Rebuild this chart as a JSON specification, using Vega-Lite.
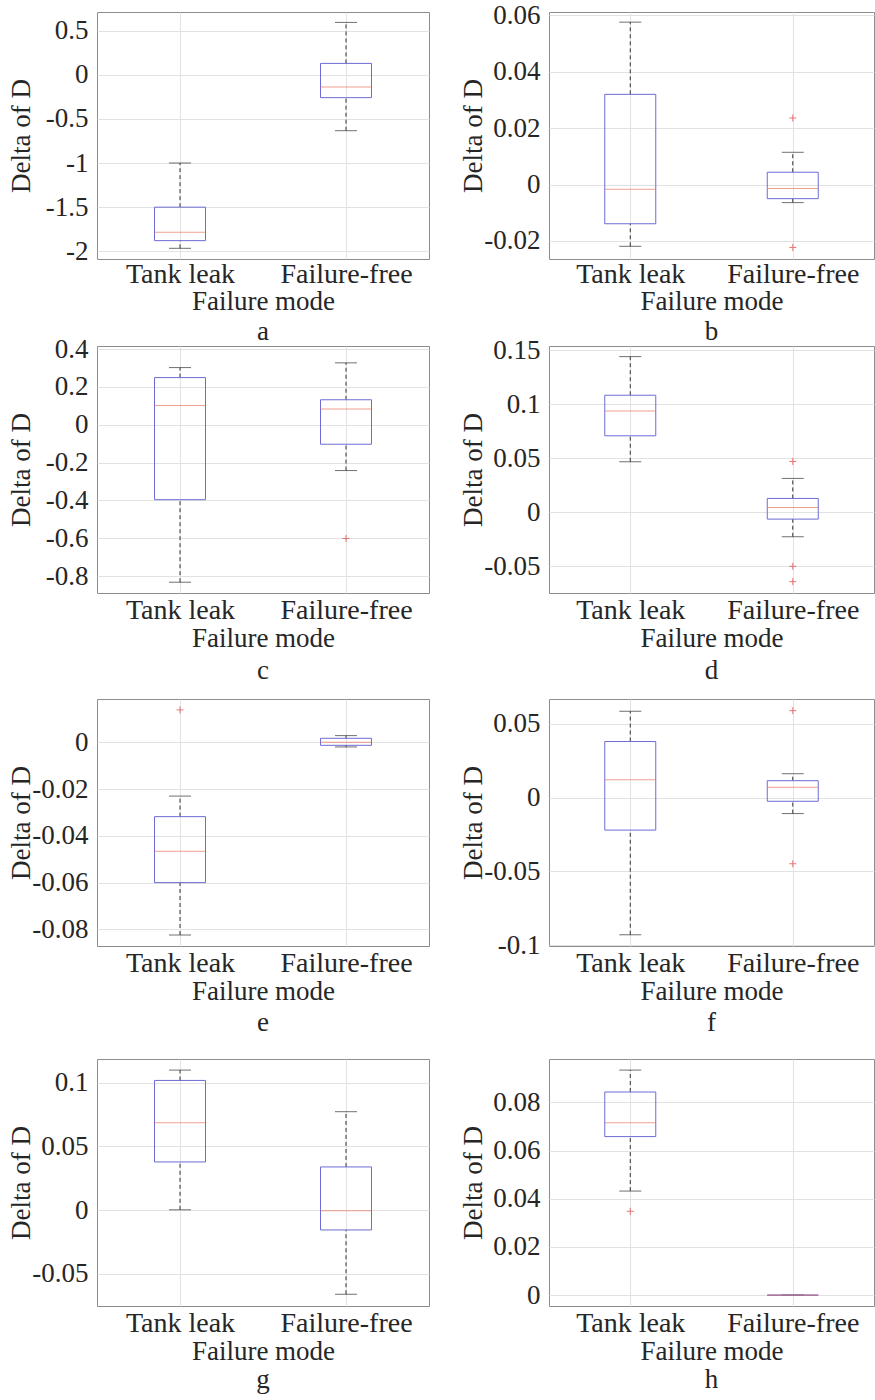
{
"$schema": "https://vega.github.io/schema/vega-lite/v6.json",
"background": "white",
"padding": {"left": 6, "top": 0, "right": 0, "bottom": 0},
"spacing": -13,
"datasets": {
 "boxes": [
  {"panel":"a","mode":"Tank leak","lower":-1.966,"q1":-1.879,"median":-1.785,"q3":-1.5,"upper":-1.0},
  {"panel":"a","mode":"Failure-free","lower":-0.634,"q1":-0.26,"median":-0.14,"q3":0.128,"upper":0.592},
  {"panel":"b","mode":"Tank leak","lower":-0.0219,"q1":-0.0139,"median":-0.00165,"q3":0.032,"upper":0.0576},
  {"panel":"b","mode":"Failure-free","lower":-0.0064,"q1":-0.005,"median":-0.0014,"q3":0.00437,"upper":0.01145},
  {"panel":"c","mode":"Tank leak","lower":-0.832,"q1":-0.396,"median":0.101,"q3":0.249,"upper":0.302},
  {"panel":"c","mode":"Failure-free","lower":-0.242,"q1":-0.103,"median":0.0836,"q3":0.132,"upper":0.327},
  {"panel":"d","mode":"Tank leak","lower":0.0468,"q1":0.0708,"median":0.0938,"q3":0.1083,"upper":0.144},
  {"panel":"d","mode":"Failure-free","lower":-0.0225,"q1":-0.0062,"median":0.0046,"q3":0.0129,"upper":0.0314},
  {"panel":"e","mode":"Tank leak","lower":-0.0824,"q1":-0.06,"median":-0.0466,"q3":-0.0318,"upper":-0.023},
  {"panel":"e","mode":"Failure-free","lower":-0.002,"q1":-0.0013,"median":0.0,"q3":0.0017,"upper":0.00285},
  {"panel":"f","mode":"Tank leak","lower":-0.0929,"q1":-0.022,"median":0.01215,"q3":0.038,"upper":0.0585},
  {"panel":"f","mode":"Failure-free","lower":-0.0108,"q1":-0.00247,"median":0.00697,"q3":0.01147,"upper":0.0162},
  {"panel":"g","mode":"Tank leak","lower":0.0003,"q1":0.0378,"median":0.0686,"q3":0.1017,"upper":0.1098},
  {"panel":"g","mode":"Failure-free","lower":-0.0659,"q1":-0.0155,"median":-0.0005,"q3":0.0339,"upper":0.0772},
  {"panel":"h","mode":"Tank leak","lower":0.0432,"q1":0.0658,"median":0.0715,"q3":0.0843,"upper":0.0934},
  {"panel":"h","mode":"Failure-free","lower":0,"q1":0,"median":0,"q3":0,"upper":0}
 ],
 "outliers": [
  {"panel":"b","mode":"Failure-free","value":0.0236},
  {"panel":"b","mode":"Failure-free","value":-0.0223},
  {"panel":"c","mode":"Failure-free","value":-0.601},
  {"panel":"d","mode":"Failure-free","value":0.0471},
  {"panel":"d","mode":"Failure-free","value":-0.0498},
  {"panel":"d","mode":"Failure-free","value":-0.064},
  {"panel":"e","mode":"Tank leak","value":0.01383},
  {"panel":"f","mode":"Failure-free","value":0.0589},
  {"panel":"f","mode":"Failure-free","value":-0.0448},
  {"panel":"h","mode":"Tank leak","value":0.0348}
 ]
},
"vconcat": [
 {"hconcat": [
 {"width":332,"height":247,"title":{"text":"a","orient":"bottom","offset":5},
  "data":{"name":"boxes"},"transform":[{"filter":"datum.panel == 'a'"}],
  "encoding":{"x":{"field":"mode","type":"nominal","title":"Failure mode","scale":{"type":"point","padding":0.5,"domain":["Tank leak","Failure-free"]},"axis":{"labelPadding":1,"titlePadding":0}}},
  "layer":[
   {"mark":{"type":"rule","strokeDash":[4,3],"color":"#333333"},"encoding":{"y":{"field":"lower","type":"quantitative","title":"Delta of D","scale":{"domain":[-2.087,0.71],"nice":false,"zero":false},"axis":{"values":[-2,-1.5,-1,-0.5,0,0.5],"labelExpr":"toString(datum.value)"}},"y2":{"field":"q1"}}},
   {"mark":{"type":"rule","strokeDash":[4,3],"color":"#333333"},"encoding":{"y":{"field":"q3","type":"quantitative","title":"Delta of D","scale":{"domain":[-2.087,0.71],"nice":false,"zero":false}},"y2":{"field":"upper"}}},
   {"mark":{"type":"tick","size":22,"thickness":1,"color":"#333333"},"encoding":{"y":{"field":"lower","type":"quantitative","title":"Delta of D","scale":{"domain":[-2.087,0.71],"nice":false,"zero":false}}}},
   {"mark":{"type":"tick","size":22,"thickness":1,"color":"#333333"},"encoding":{"y":{"field":"upper","type":"quantitative","title":"Delta of D","scale":{"domain":[-2.087,0.71],"nice":false,"zero":false}}}},
   {"mark":{"type":"bar","width":51,"fill":"transparent","stroke":"#6c6cd4","strokeWidth":1},"encoding":{"y":{"field":"q1","type":"quantitative","title":"Delta of D","scale":{"domain":[-2.087,0.71],"nice":false,"zero":false}},"y2":{"field":"q3"}}},
   {"mark":{"type":"tick","size":51,"thickness":1,"color":"#e8785f"},"encoding":{"y":{"field":"median","type":"quantitative","title":"Delta of D","scale":{"domain":[-2.087,0.71],"nice":false,"zero":false}}}}
  ]},
 {"width":325,"height":247,"title":{"text":"b","orient":"bottom","offset":5},
  "data":{"name":"boxes"},"transform":[{"filter":"datum.panel == 'b'"}],
  "encoding":{"x":{"field":"mode","type":"nominal","title":"Failure mode","scale":{"type":"point","padding":0.5,"domain":["Tank leak","Failure-free"]},"axis":{"labelPadding":1,"titlePadding":0}}},
  "layer":[
   {"mark":{"type":"rule","strokeDash":[4,3],"color":"#333333"},"encoding":{"y":{"field":"lower","type":"quantitative","title":"Delta of D","scale":{"domain":[-0.0264,0.0612],"nice":false,"zero":false},"axis":{"values":[-0.02,0,0.02,0.04,0.06],"labelExpr":"toString(datum.value)"}},"y2":{"field":"q1"}}},
   {"mark":{"type":"rule","strokeDash":[4,3],"color":"#333333"},"encoding":{"y":{"field":"q3","type":"quantitative","title":"Delta of D","scale":{"domain":[-0.0264,0.0612],"nice":false,"zero":false}},"y2":{"field":"upper"}}},
   {"mark":{"type":"tick","size":22,"thickness":1,"color":"#333333"},"encoding":{"y":{"field":"lower","type":"quantitative","title":"Delta of D","scale":{"domain":[-0.0264,0.0612],"nice":false,"zero":false}}}},
   {"mark":{"type":"tick","size":22,"thickness":1,"color":"#333333"},"encoding":{"y":{"field":"upper","type":"quantitative","title":"Delta of D","scale":{"domain":[-0.0264,0.0612],"nice":false,"zero":false}}}},
   {"mark":{"type":"bar","width":51,"fill":"transparent","stroke":"#6c6cd4","strokeWidth":1},"encoding":{"y":{"field":"q1","type":"quantitative","title":"Delta of D","scale":{"domain":[-0.0264,0.0612],"nice":false,"zero":false}},"y2":{"field":"q3"}}},
   {"mark":{"type":"tick","size":51,"thickness":1,"color":"#e8785f"},"encoding":{"y":{"field":"median","type":"quantitative","title":"Delta of D","scale":{"domain":[-0.0264,0.0612],"nice":false,"zero":false}}}},
   {"data":{"name":"outliers"},"transform":[{"filter":"datum.panel == 'b'"}],"mark":{"type":"point","shape":"M-1,0L1,0M0,-1L0,1","filled":false,"color":"#e04040","size":50,"strokeWidth":1},"encoding":{"y":{"field":"value","type":"quantitative","title":"Delta of D","scale":{"domain":[-0.0264,0.0612],"nice":false,"zero":false}}}}
  ]}
 ], "spacing": 120, "bounds": "flush"},
 {"vconcat": [
  {"hconcat": [
 {"width":332,"height":247,"title":{"text":"c","orient":"bottom","offset":7},
  "data":{"name":"boxes"},"transform":[{"filter":"datum.panel == 'c'"}],
  "encoding":{"x":{"field":"mode","type":"nominal","title":"Failure mode","scale":{"type":"point","padding":0.5,"domain":["Tank leak","Failure-free"]}}},
  "layer":[
   {"mark":{"type":"rule","strokeDash":[4,3],"color":"#333333"},"encoding":{"y":{"field":"lower","type":"quantitative","title":"Delta of D","scale":{"domain":[-0.889,0.416],"nice":false,"zero":false},"axis":{"values":[-0.8,-0.6,-0.4,-0.2,0,0.2,0.4],"labelExpr":"toString(datum.value)"}},"y2":{"field":"q1"}}},
   {"mark":{"type":"rule","strokeDash":[4,3],"color":"#333333"},"encoding":{"y":{"field":"q3","type":"quantitative","title":"Delta of D","scale":{"domain":[-0.889,0.416],"nice":false,"zero":false}},"y2":{"field":"upper"}}},
   {"mark":{"type":"tick","size":22,"thickness":1,"color":"#333333"},"encoding":{"y":{"field":"lower","type":"quantitative","title":"Delta of D","scale":{"domain":[-0.889,0.416],"nice":false,"zero":false}}}},
   {"mark":{"type":"tick","size":22,"thickness":1,"color":"#333333"},"encoding":{"y":{"field":"upper","type":"quantitative","title":"Delta of D","scale":{"domain":[-0.889,0.416],"nice":false,"zero":false}}}},
   {"mark":{"type":"bar","width":51,"fill":"transparent","stroke":"#6c6cd4","strokeWidth":1},"encoding":{"y":{"field":"q1","type":"quantitative","title":"Delta of D","scale":{"domain":[-0.889,0.416],"nice":false,"zero":false}},"y2":{"field":"q3"}}},
   {"mark":{"type":"tick","size":51,"thickness":1,"color":"#e8785f"},"encoding":{"y":{"field":"median","type":"quantitative","title":"Delta of D","scale":{"domain":[-0.889,0.416],"nice":false,"zero":false}}}},
   {"data":{"name":"outliers"},"transform":[{"filter":"datum.panel == 'c'"}],"mark":{"type":"point","shape":"M-1,0L1,0M0,-1L0,1","filled":false,"color":"#e04040","size":50,"strokeWidth":1},"encoding":{"y":{"field":"value","type":"quantitative","title":"Delta of D","scale":{"domain":[-0.889,0.416],"nice":false,"zero":false}}}}
  ]},
 {"width":325,"height":247,"title":{"text":"d","orient":"bottom","offset":7},
  "data":{"name":"boxes"},"transform":[{"filter":"datum.panel == 'd'"}],
  "encoding":{"x":{"field":"mode","type":"nominal","title":"Failure mode","scale":{"type":"point","padding":0.5,"domain":["Tank leak","Failure-free"]}}},
  "layer":[
   {"mark":{"type":"rule","strokeDash":[4,3],"color":"#333333"},"encoding":{"y":{"field":"lower","type":"quantitative","title":"Delta of D","scale":{"domain":[-0.0745,0.1538],"nice":false,"zero":false},"axis":{"values":[-0.05,0,0.05,0.1,0.15],"labelExpr":"toString(datum.value)"}},"y2":{"field":"q1"}}},
   {"mark":{"type":"rule","strokeDash":[4,3],"color":"#333333"},"encoding":{"y":{"field":"q3","type":"quantitative","title":"Delta of D","scale":{"domain":[-0.0745,0.1538],"nice":false,"zero":false}},"y2":{"field":"upper"}}},
   {"mark":{"type":"tick","size":22,"thickness":1,"color":"#333333"},"encoding":{"y":{"field":"lower","type":"quantitative","title":"Delta of D","scale":{"domain":[-0.0745,0.1538],"nice":false,"zero":false}}}},
   {"mark":{"type":"tick","size":22,"thickness":1,"color":"#333333"},"encoding":{"y":{"field":"upper","type":"quantitative","title":"Delta of D","scale":{"domain":[-0.0745,0.1538],"nice":false,"zero":false}}}},
   {"mark":{"type":"bar","width":51,"fill":"transparent","stroke":"#6c6cd4","strokeWidth":1},"encoding":{"y":{"field":"q1","type":"quantitative","title":"Delta of D","scale":{"domain":[-0.0745,0.1538],"nice":false,"zero":false}},"y2":{"field":"q3"}}},
   {"mark":{"type":"tick","size":51,"thickness":1,"color":"#e8785f"},"encoding":{"y":{"field":"median","type":"quantitative","title":"Delta of D","scale":{"domain":[-0.0745,0.1538],"nice":false,"zero":false}}}},
   {"data":{"name":"outliers"},"transform":[{"filter":"datum.panel == 'd'"}],"mark":{"type":"point","shape":"M-1,0L1,0M0,-1L0,1","filled":false,"color":"#e04040","size":50,"strokeWidth":1},"encoding":{"y":{"field":"value","type":"quantitative","title":"Delta of D","scale":{"domain":[-0.0745,0.1538],"nice":false,"zero":false}}}}
  ]}
  ], "spacing": 120, "bounds": "flush"},
  {"vconcat": [
   {"hconcat": [
 {"width":332,"height":247,"title":{"text":"e","orient":"bottom","offset":6},
  "data":{"name":"boxes"},"transform":[{"filter":"datum.panel == 'e'"}],
  "encoding":{"x":{"field":"mode","type":"nominal","title":"Failure mode","scale":{"type":"point","padding":0.5,"domain":["Tank leak","Failure-free"]}}},
  "layer":[
   {"mark":{"type":"rule","strokeDash":[4,3],"color":"#333333"},"encoding":{"y":{"field":"lower","type":"quantitative","title":"Delta of D","scale":{"domain":[-0.0871,0.0185],"nice":false,"zero":false},"axis":{"values":[-0.08,-0.06,-0.04,-0.02,0],"labelExpr":"toString(datum.value)"}},"y2":{"field":"q1"}}},
   {"mark":{"type":"rule","strokeDash":[4,3],"color":"#333333"},"encoding":{"y":{"field":"q3","type":"quantitative","title":"Delta of D","scale":{"domain":[-0.0871,0.0185],"nice":false,"zero":false}},"y2":{"field":"upper"}}},
   {"mark":{"type":"tick","size":22,"thickness":1,"color":"#333333"},"encoding":{"y":{"field":"lower","type":"quantitative","title":"Delta of D","scale":{"domain":[-0.0871,0.0185],"nice":false,"zero":false}}}},
   {"mark":{"type":"tick","size":22,"thickness":1,"color":"#333333"},"encoding":{"y":{"field":"upper","type":"quantitative","title":"Delta of D","scale":{"domain":[-0.0871,0.0185],"nice":false,"zero":false}}}},
   {"mark":{"type":"bar","width":51,"fill":"transparent","stroke":"#6c6cd4","strokeWidth":1},"encoding":{"y":{"field":"q1","type":"quantitative","title":"Delta of D","scale":{"domain":[-0.0871,0.0185],"nice":false,"zero":false}},"y2":{"field":"q3"}}},
   {"mark":{"type":"tick","size":51,"thickness":1,"color":"#e8785f"},"encoding":{"y":{"field":"median","type":"quantitative","title":"Delta of D","scale":{"domain":[-0.0871,0.0185],"nice":false,"zero":false}}}},
   {"data":{"name":"outliers"},"transform":[{"filter":"datum.panel == 'e'"}],"mark":{"type":"point","shape":"M-1,0L1,0M0,-1L0,1","filled":false,"color":"#e04040","size":50,"strokeWidth":1},"encoding":{"y":{"field":"value","type":"quantitative","title":"Delta of D","scale":{"domain":[-0.0871,0.0185],"nice":false,"zero":false}}}}
  ]},
 {"width":325,"height":247,"title":{"text":"f","orient":"bottom","offset":6},
  "data":{"name":"boxes"},"transform":[{"filter":"datum.panel == 'f'"}],
  "encoding":{"x":{"field":"mode","type":"nominal","title":"Failure mode","scale":{"type":"point","padding":0.5,"domain":["Tank leak","Failure-free"]}}},
  "layer":[
   {"mark":{"type":"rule","strokeDash":[4,3],"color":"#333333"},"encoding":{"y":{"field":"lower","type":"quantitative","title":"Delta of D","scale":{"domain":[-0.1005,0.0668],"nice":false,"zero":false},"axis":{"values":[-0.1,-0.05,0,0.05],"labelExpr":"toString(datum.value)"}},"y2":{"field":"q1"}}},
   {"mark":{"type":"rule","strokeDash":[4,3],"color":"#333333"},"encoding":{"y":{"field":"q3","type":"quantitative","title":"Delta of D","scale":{"domain":[-0.1005,0.0668],"nice":false,"zero":false}},"y2":{"field":"upper"}}},
   {"mark":{"type":"tick","size":22,"thickness":1,"color":"#333333"},"encoding":{"y":{"field":"lower","type":"quantitative","title":"Delta of D","scale":{"domain":[-0.1005,0.0668],"nice":false,"zero":false}}}},
   {"mark":{"type":"tick","size":22,"thickness":1,"color":"#333333"},"encoding":{"y":{"field":"upper","type":"quantitative","title":"Delta of D","scale":{"domain":[-0.1005,0.0668],"nice":false,"zero":false}}}},
   {"mark":{"type":"bar","width":51,"fill":"transparent","stroke":"#6c6cd4","strokeWidth":1},"encoding":{"y":{"field":"q1","type":"quantitative","title":"Delta of D","scale":{"domain":[-0.1005,0.0668],"nice":false,"zero":false}},"y2":{"field":"q3"}}},
   {"mark":{"type":"tick","size":51,"thickness":1,"color":"#e8785f"},"encoding":{"y":{"field":"median","type":"quantitative","title":"Delta of D","scale":{"domain":[-0.1005,0.0668],"nice":false,"zero":false}}}},
   {"data":{"name":"outliers"},"transform":[{"filter":"datum.panel == 'f'"}],"mark":{"type":"point","shape":"M-1,0L1,0M0,-1L0,1","filled":false,"color":"#e04040","size":50,"strokeWidth":1},"encoding":{"y":{"field":"value","type":"quantitative","title":"Delta of D","scale":{"domain":[-0.1005,0.0668],"nice":false,"zero":false}}}}
  ]}
   ], "spacing": 120, "bounds": "flush"},
   {"hconcat": [
 {"width":332,"height":247,"title":{"text":"g","orient":"bottom","offset":3},
  "data":{"name":"boxes"},"transform":[{"filter":"datum.panel == 'g'"}],
  "encoding":{"x":{"field":"mode","type":"nominal","title":"Failure mode","scale":{"type":"point","padding":0.5,"domain":["Tank leak","Failure-free"]}}},
  "layer":[
   {"mark":{"type":"rule","strokeDash":[4,3],"color":"#333333"},"encoding":{"y":{"field":"lower","type":"quantitative","title":"Delta of D","scale":{"domain":[-0.0751,0.1185],"nice":false,"zero":false},"axis":{"values":[-0.05,0,0.05,0.1],"labelExpr":"toString(datum.value)"}},"y2":{"field":"q1"}}},
   {"mark":{"type":"rule","strokeDash":[4,3],"color":"#333333"},"encoding":{"y":{"field":"q3","type":"quantitative","title":"Delta of D","scale":{"domain":[-0.0751,0.1185],"nice":false,"zero":false}},"y2":{"field":"upper"}}},
   {"mark":{"type":"tick","size":22,"thickness":1,"color":"#333333"},"encoding":{"y":{"field":"lower","type":"quantitative","title":"Delta of D","scale":{"domain":[-0.0751,0.1185],"nice":false,"zero":false}}}},
   {"mark":{"type":"tick","size":22,"thickness":1,"color":"#333333"},"encoding":{"y":{"field":"upper","type":"quantitative","title":"Delta of D","scale":{"domain":[-0.0751,0.1185],"nice":false,"zero":false}}}},
   {"mark":{"type":"bar","width":51,"fill":"transparent","stroke":"#6c6cd4","strokeWidth":1},"encoding":{"y":{"field":"q1","type":"quantitative","title":"Delta of D","scale":{"domain":[-0.0751,0.1185],"nice":false,"zero":false}},"y2":{"field":"q3"}}},
   {"mark":{"type":"tick","size":51,"thickness":1,"color":"#e8785f"},"encoding":{"y":{"field":"median","type":"quantitative","title":"Delta of D","scale":{"domain":[-0.0751,0.1185],"nice":false,"zero":false}}}}
  ]},
 {"width":325,"height":247,"title":{"text":"h","orient":"bottom","offset":3},
  "data":{"name":"boxes"},"transform":[{"filter":"datum.panel == 'h'"}],
  "encoding":{"x":{"field":"mode","type":"nominal","title":"Failure mode","scale":{"type":"point","padding":0.5,"domain":["Tank leak","Failure-free"]}}},
  "layer":[
   {"mark":{"type":"rule","strokeDash":[4,3],"color":"#333333"},"encoding":{"y":{"field":"lower","type":"quantitative","title":"Delta of D","scale":{"domain":[-0.0045,0.098],"nice":false,"zero":false},"axis":{"values":[0,0.02,0.04,0.06,0.08],"labelExpr":"toString(datum.value)"}},"y2":{"field":"q1"}}},
   {"mark":{"type":"rule","strokeDash":[4,3],"color":"#333333"},"encoding":{"y":{"field":"q3","type":"quantitative","title":"Delta of D","scale":{"domain":[-0.0045,0.098],"nice":false,"zero":false}},"y2":{"field":"upper"}}},
   {"mark":{"type":"tick","size":22,"thickness":1,"color":"#333333"},"encoding":{"y":{"field":"lower","type":"quantitative","title":"Delta of D","scale":{"domain":[-0.0045,0.098],"nice":false,"zero":false}}}},
   {"mark":{"type":"tick","size":22,"thickness":1,"color":"#333333"},"encoding":{"y":{"field":"upper","type":"quantitative","title":"Delta of D","scale":{"domain":[-0.0045,0.098],"nice":false,"zero":false}}}},
   {"mark":{"type":"bar","width":51,"fill":"transparent","stroke":"#6c6cd4","strokeWidth":1},"encoding":{"y":{"field":"q1","type":"quantitative","title":"Delta of D","scale":{"domain":[-0.0045,0.098],"nice":false,"zero":false}},"y2":{"field":"q3"}}},
   {"mark":{"type":"tick","size":51,"thickness":1,"color":"#e8785f"},"encoding":{"y":{"field":"median","type":"quantitative","title":"Delta of D","scale":{"domain":[-0.0045,0.098],"nice":false,"zero":false}}}},
   {"data":{"name":"outliers"},"transform":[{"filter":"datum.panel == 'h'"}],"mark":{"type":"point","shape":"M-1,0L1,0M0,-1L0,1","filled":false,"color":"#e04040","size":50,"strokeWidth":1},"encoding":{"y":{"field":"value","type":"quantitative","title":"Delta of D","scale":{"domain":[-0.0045,0.098],"nice":false,"zero":false}}}}
  ]}
   ], "spacing": 120, "bounds": "flush"}
  ], "spacing": 21}
 ], "spacing": 13}
],
"config": {
 "font": "Liberation Serif",
 "view": {"stroke": "#8c8c8c", "strokeWidth": 1},
 "axis": {"labelFont": "Liberation Serif", "labelColor": "#262626", "titleFont": "Liberation Serif", "titleFontSize": 27, "titleFontWeight": "normal", "titleColor": "#262626", "domain": false, "ticks": false, "grid": true, "gridColor": "#e2e2e2", "gridWidth": 1},
 "axisX": {"labelAngle": 0, "labelFontSize": 28, "labelPadding": 3, "titlePadding": 1},
 "axisY": {"labelFontSize": 27, "labelPadding": 9, "titleX": -62},
 "title": {"font": "Liberation Serif", "fontSize": 27, "fontWeight": "normal", "color": "#262626"}
}
}
